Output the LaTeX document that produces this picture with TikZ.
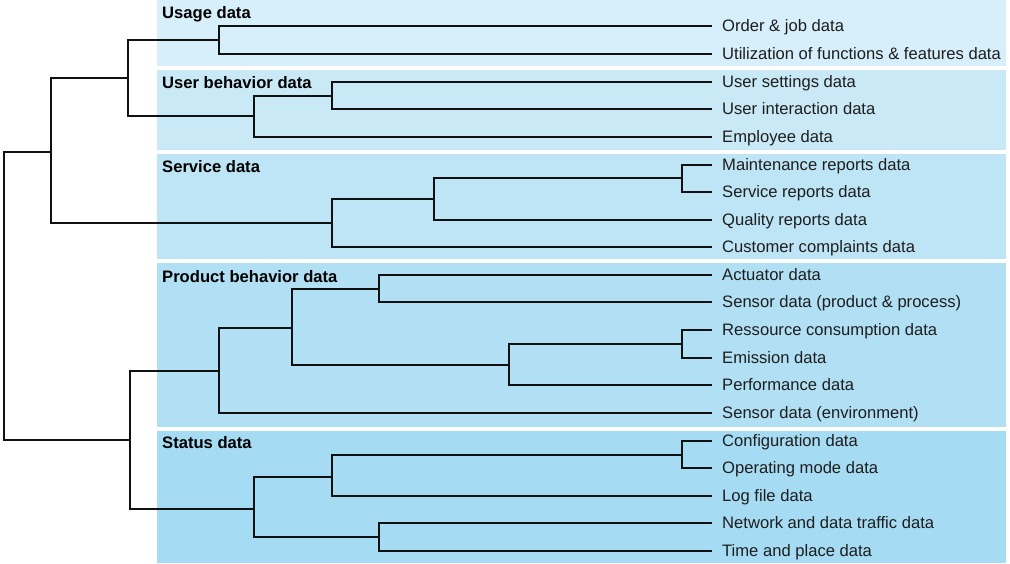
\documentclass[tikz,border=0pt]{standalone}
\usepackage{fontspec}
\setmainfont{Liberation Sans}
\definecolor{bandA}{HTML}{D6EFFA}
\definecolor{bandB}{HTML}{CAE9F7}
\definecolor{bandC}{HTML}{BEE5F6}
\definecolor{bandD}{HTML}{B1E0F5}
\definecolor{bandE}{HTML}{A6DCF3}
\definecolor{linecol}{HTML}{111111}
\definecolor{leaftext}{HTML}{1E1E1E}
\begin{document}
\begin{tikzpicture}[x=1pt,y=-1pt,
  leaf/.style={anchor=west, inner xsep=10pt, inner ysep=0pt, text height=13pt, text depth=1.4pt, font=\fontsize{16.6}{19}\selectfont, text=leaftext},
  head/.style={anchor=base west, inner sep=0pt, font=\fontsize{16.6}{19}\selectfont\bfseries, text=black},
  tree/.style={line width=2pt, draw=linecol, line join=miter}
]
\fill[white] (0,0) rectangle (1010,563);
\useasboundingbox (0,0) rectangle (1010,563);
% bands
\fill[bandA] (157,0) rectangle (1006,65.5);
\fill[bandB] (157,69.5) rectangle (1006,149.5);
\fill[bandC] (157,153.5) rectangle (1006,258.5);
\fill[bandD] (157,263) rectangle (1006,426.5);
\fill[bandE] (157,430.5) rectangle (1006,563);
% headings
\node[head] (hU) at (162,18.5) {Usage data};
\node[head] (hB) at (162,88.5) {User behavior data};
\node[head] (hS) at (162,172) {Service data};
\node[head] (hP) at (162,282.5) {Product behavior data};
\node[head] (hT) at (162,448.5) {Status data};
% leaves
\node[leaf] (l0) at (712,26) {Order \& job data};
\node[leaf] (l1) at (712,54) {Utilization of functions \& features data};
\node[leaf] (l2) at (712,82) {User settings data};
\node[leaf] (l3) at (712,109) {User interaction data};
\node[leaf] (l4) at (712,137) {Employee data};
\node[leaf] (l5) at (712,165) {Maintenance reports data};
\node[leaf] (l6) at (712,192) {Service reports data};
\node[leaf] (l7) at (712,220) {Quality reports data};
\node[leaf] (l8) at (712,247) {Customer complaints data};
\node[leaf] (l9) at (712,275) {Actuator data};
\node[leaf] (l10) at (712,302) {Sensor data (product \& process)};
\node[leaf] (l11) at (712,330) {Ressource consumption data};
\node[leaf] (l12) at (712,358) {Emission data};
\node[leaf] (l13) at (712,385) {Performance data};
\node[leaf] (l14) at (712,413) {Sensor data (environment)};
\node[leaf] (l15) at (712,441) {Configuration data};
\node[leaf] (l16) at (712,468) {Operating mode data};
\node[leaf] (l17) at (712,496) {Log file data};
\node[leaf] (l18) at (712,523) {Network and data traffic data};
\node[leaf] (l19) at (712,551) {Time and place data};
% internal nodes
\coordinate (U1) at (219,40);
\coordinate (B1) at (332,96);
\coordinate (B2) at (254,116);
\coordinate (A) at (128,78);
\coordinate (S1) at (682,178);
\coordinate (S2) at (434,199);
\coordinate (S3) at (332,223);
\coordinate (T) at (51,152);
\coordinate (P1) at (379,289);
\coordinate (P2) at (682,344);
\coordinate (P3) at (509,365);
\coordinate (P4) at (292,328);
\coordinate (P5) at (219,371);
\coordinate (St1) at (682,455);
\coordinate (St2) at (332,477);
\coordinate (St3) at (379,537);
\coordinate (St4) at (254,509);
\coordinate (L) at (130,440);
\coordinate (R) at (4,296);
% connectors
\draw[tree] (l0.west) -| (U1) |- (l1.west);
\draw[tree] (l2.west) -| (B1) |- (l3.west);
\draw[tree] (B1) -| (B2) |- (l4.west);
\draw[tree] (U1) -| (A) |- (B2);
\draw[tree] (l5.west) -| (S1) |- (l6.west);
\draw[tree] (S1) -| (S2) |- (l7.west);
\draw[tree] (S2) -| (S3) |- (l8.west);
\draw[tree] (A) -| (T) |- (S3);
\draw[tree] (l9.west) -| (P1) |- (l10.west);
\draw[tree] (l11.west) -| (P2) |- (l12.west);
\draw[tree] (P2) -| (P3) |- (l13.west);
\draw[tree] (P1) -| (P4) |- (P3);
\draw[tree] (P4) -| (P5) |- (l14.west);
\draw[tree] (l15.west) -| (St1) |- (l16.west);
\draw[tree] (St1) -| (St2) |- (l17.west);
\draw[tree] (l18.west) -| (St3) |- (l19.west);
\draw[tree] (St2) -| (St4) |- (St3);
\draw[tree] (P5) -| (L) |- (St4);
\draw[tree] (T) -| (R) |- (L);
\end{tikzpicture}
\end{document}
